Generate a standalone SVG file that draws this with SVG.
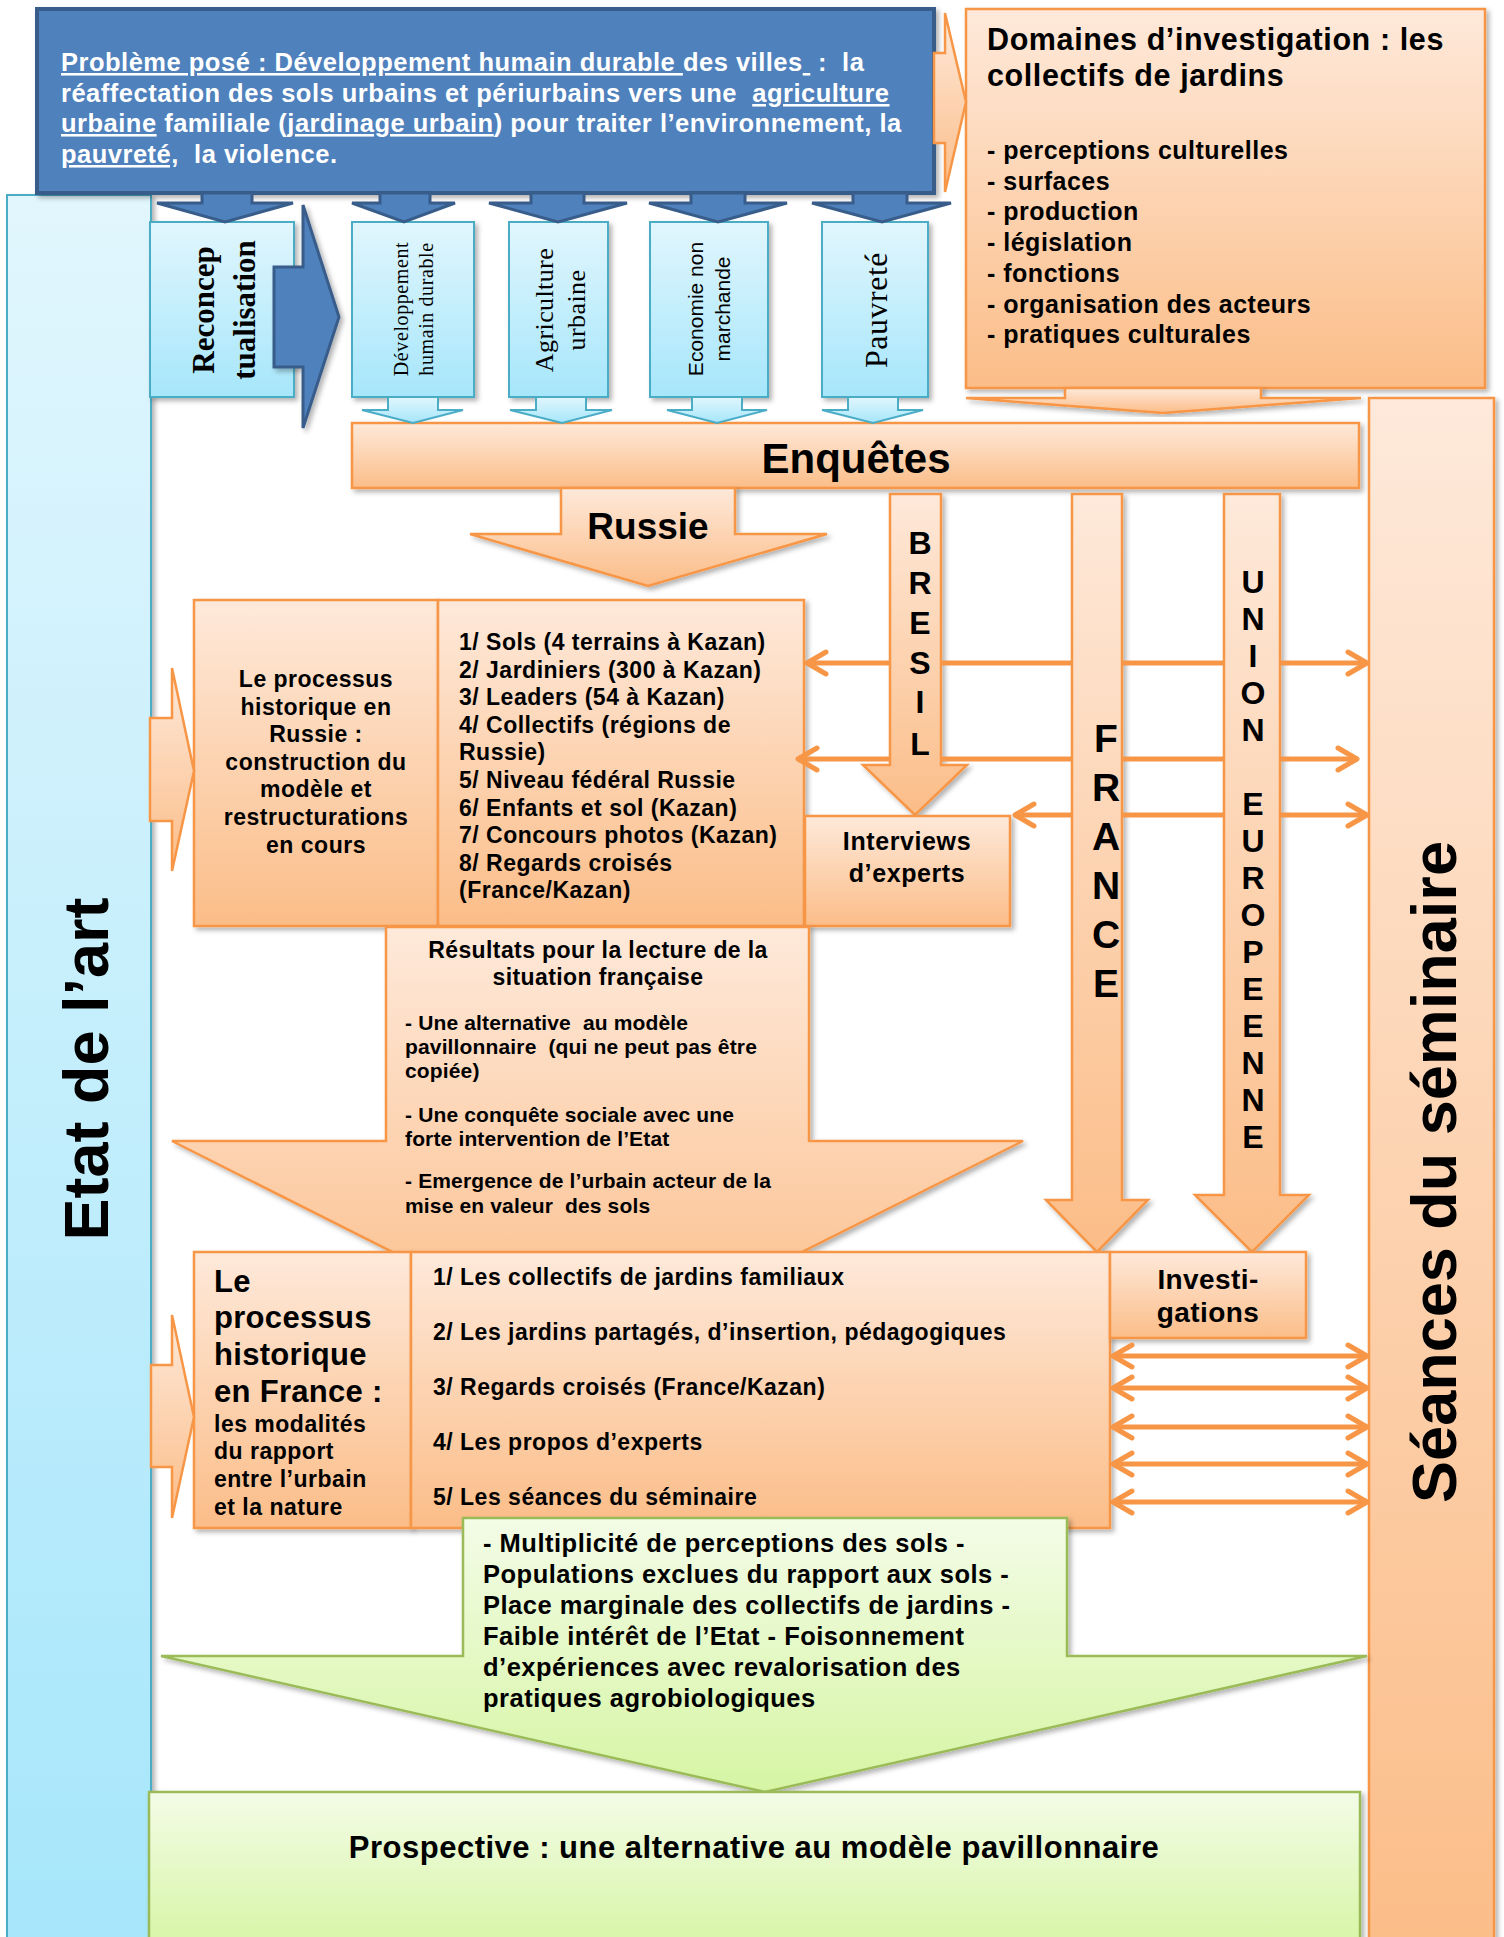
<svg xmlns="http://www.w3.org/2000/svg" width="1504" height="1937" viewBox="0 0 1504 1937">
<defs>
<linearGradient id="gO" x1="0" y1="0" x2="0" y2="1"><stop offset="0" stop-color="#fee9da"/><stop offset="1" stop-color="#fbbd88"/></linearGradient>
<linearGradient id="gB" x1="0" y1="0" x2="0" y2="1"><stop offset="0" stop-color="#e1f6fd"/><stop offset="1" stop-color="#a6e6fb"/></linearGradient>
<linearGradient id="gG" x1="0" y1="0" x2="0" y2="1"><stop offset="0" stop-color="#f3fce7"/><stop offset="1" stop-color="#d6f5a3"/></linearGradient>
<filter id="sh" x="-10%" y="-10%" width="125%" height="125%"><feDropShadow dx="3" dy="3" stdDeviation="2.5" flood-color="#000" flood-opacity="0.3"/></filter>
<marker id="ch" viewBox="0 0 24 24" refX="21" refY="12" markerWidth="24" markerHeight="24" markerUnits="userSpaceOnUse" orient="auto-start-reverse" overflow="visible"><path d="M2,1 L21,12 L2,23" fill="none" stroke="#f79646" stroke-width="5" stroke-linecap="round" stroke-linejoin="round"/></marker>
<style>
.o{fill:url(#gO);stroke:#f79646;stroke-width:2.5}
.lb{fill:url(#gB);stroke:#4bacc6;stroke-width:2}
.g{fill:url(#gG);stroke:#9bbb59;stroke-width:2.5}
.db{fill:#4f81bd;stroke:#385d8a;stroke-width:3}
.sh{filter:url(#sh)}
text{font-family:"Liberation Sans",Arial,sans-serif;font-weight:700;fill:#000}
.serif{font-family:"Liberation Serif","Times New Roman",serif}
.reg{font-weight:400}
.w{fill:#fff}
.c{text-anchor:middle}
.dbl{fill:none;stroke:#f79646;stroke-width:5;marker-start:url(#ch);marker-end:url(#ch)}
.tb{font-size:25.5px;letter-spacing:0.5px}
.tdt{font-size:30.5px;letter-spacing:0.6px}
.tdl{font-size:25px;letter-spacing:0.5px}
.t23{font-size:23px;letter-spacing:0.5px}
.t23h{font-size:23px;letter-spacing:0.4px}
.t21{font-size:21px;letter-spacing:0.15px}
.t25{font-size:25px;letter-spacing:0.6px}
.tg{font-size:25.5px;letter-spacing:0.5px}
.t31{font-size:31px;letter-spacing:0.3px}
.tp{font-size:31px;letter-spacing:0.5px}
.t28{font-size:28px;letter-spacing:0.4px}
.big{font-size:63px}
.enq{font-size:42px}
.rus{font-size:37px}
.l32{font-size:32px}
.l39{font-size:39px}
</style>
</defs>

<g id="etat-art">
<rect x="7" y="195" width="144" height="1760" class="lb sh"/>
<text class="big c" transform="translate(108,1069) rotate(-90)">Etat de l’art</text>
</g>

<g id="seances">
<rect x="1369" y="398" width="125" height="1560" class="o sh"/>
<text class="big c" transform="translate(1456,1172) rotate(-90)">Séances du séminaire</text>
</g>

<g id="domaines">
<rect x="966" y="9" width="519" height="379" class="o sh"/>
<text class="tdt" x="987" y="50">Domaines d’investigation : les</text>
<text class="tdt" x="987" y="86">collectifs de jardins</text>
<text class="tdl" x="987"><tspan x="987" y="159">- perceptions culturelles</tspan><tspan x="987" y="190">- surfaces</tspan><tspan x="987" y="220">- production</tspan><tspan x="987" y="251">- législation</tspan><tspan x="987" y="282">- fonctions</tspan><tspan x="987" y="313">- organisation des acteurs</tspan><tspan x="987" y="343">- pratiques culturales</tspan></text>
</g>

<g id="probleme">
<rect x="37" y="9" width="897" height="184" fill="#4f81bd" stroke="#385d8a" stroke-width="4" class="sh"/>
<text class="tb w" x="61" y="71" xml:space="preserve"><tspan text-decoration="underline">Problème posé : Développement humain durable </tspan>des villes<tspan text-decoration="underline"> </tspan> :  la</text>
<text class="tb w" x="61" y="102" xml:space="preserve">réaffectation des sols urbains et périurbains vers une  <tspan text-decoration="underline">agriculture</tspan></text>
<text class="tb w" x="61" y="132" xml:space="preserve"><tspan text-decoration="underline">urbaine</tspan> familiale (<tspan text-decoration="underline">jardinage urbain</tspan>) pour traiter l’environnement, la</text>
<text class="tb w" x="61" y="163" xml:space="preserve"><tspan text-decoration="underline">pauvreté,</tspan>  la violence.</text>
</g>

<g id="reconceptualisation">
<rect x="150" y="222" width="144" height="175" class="lb sh"/>
<text class="serif c" style="font-size:31px" transform="translate(214,310) rotate(-90)">Reconcep</text>
<text class="serif c" style="font-size:31px" transform="translate(255,310) rotate(-90)">tualisation</text>
</g>

<g id="developpement">
<rect x="352" y="222" width="122" height="175" class="lb sh"/>
<text class="serif reg c" style="font-size:20px;letter-spacing:0.6px" transform="translate(408,309) rotate(-90)">Développement</text>
<text class="serif reg c" style="font-size:20px;letter-spacing:0.6px" transform="translate(433,309) rotate(-90)">humain durable</text>
</g>

<g id="agriculture">
<rect x="509" y="222" width="99" height="175" class="lb sh"/>
<text class="serif reg c" style="font-size:26px;letter-spacing:0.4px" transform="translate(553,310) rotate(-90)">Agriculture</text>
<text class="serif reg c" style="font-size:26px;letter-spacing:0.4px" transform="translate(585,310) rotate(-90)">urbaine</text>
</g>

<g id="economie">
<rect x="650" y="222" width="118" height="175" class="lb sh"/>
<text class="reg c" style="font-size:21px" transform="translate(703,309) rotate(-90)">Economie non</text>
<text class="reg c" style="font-size:21px" transform="translate(730,309) rotate(-90)">marchande</text>
</g>

<g id="pauvrete">
<rect x="822" y="222" width="106" height="175" class="lb sh"/>
<text class="serif reg c" style="font-size:32px;letter-spacing:0.5px" transform="translate(887,310) rotate(-90)">Pauvreté</text>
</g>

<g id="enquetes">
<rect x="352" y="423" width="1007" height="65" class="o sh"/>
<text class="enq c" x="856" y="473">Enquêtes</text>
</g>

<g id="russie">
<polygon points="561,488 735,488 735,534 827,534 648,586 470,534 561,534" class="o sh"/>
<text class="rus c" x="648" y="539">Russie</text>
</g>

<g id="processus-russie">
<rect x="194" y="600" width="244" height="326" class="o sh"/>
<text class="t23 c"><tspan x="316" y="687">Le processus</tspan><tspan x="316" y="715">historique en</tspan><tspan x="316" y="742">Russie :</tspan><tspan x="316" y="770">construction du</tspan><tspan x="316" y="797">modèle et</tspan><tspan x="316" y="825">restructurations</tspan><tspan x="316" y="853">en cours</tspan></text>
</g>

<g id="liste-russie">
<rect x="438" y="600" width="366" height="326" class="o sh"/>
<text class="t23"><tspan x="459" y="650">1/ Sols (4 terrains à Kazan)</tspan><tspan x="459" y="678">2/ Jardiniers (300 à Kazan)</tspan><tspan x="459" y="705">3/ Leaders (54 à Kazan)</tspan><tspan x="459" y="733">4/ Collectifs (régions de</tspan><tspan x="459" y="760">Russie)</tspan><tspan x="459" y="788">5/ Niveau fédéral Russie</tspan><tspan x="459" y="816">6/ Enfants et sol (Kazan)</tspan><tspan x="459" y="843">7/ Concours photos (Kazan)</tspan><tspan x="459" y="871">8/ Regards croisés</tspan><tspan x="459" y="898">(France/Kazan)</tspan></text>
</g>

<g id="bresil">
<polygon points="890,494 941,494 941,765 967,765 915,815 863,765 890,765" class="o sh"/>
<text class="l32 c"><tspan x="920" y="554">B</tspan><tspan x="920" y="594">R</tspan><tspan x="920" y="634">E</tspan><tspan x="920" y="674">S</tspan><tspan x="920" y="713">I</tspan><tspan x="920" y="755">L</tspan></text>
</g>

<g id="france">
<polygon points="1072,494 1122,494 1122,1200 1148,1200 1097,1252 1046,1200 1072,1200" class="o sh"/>
<text class="l39 c"><tspan x="1106" y="752">F</tspan><tspan x="1106" y="801">R</tspan><tspan x="1106" y="850">A</tspan><tspan x="1106" y="899">N</tspan><tspan x="1106" y="948">C</tspan><tspan x="1106" y="997">E</tspan></text>
</g>

<g id="union-europeenne">
<polygon points="1224,494 1280,494 1280,1195 1309,1195 1252,1252 1195,1195 1224,1195" class="o sh"/>
<text class="l32 c"><tspan x="1253" y="593">U</tspan><tspan x="1253" y="630">N</tspan><tspan x="1253" y="667">I</tspan><tspan x="1253" y="704">O</tspan><tspan x="1253" y="741">N</tspan><tspan x="1253" y="815">E</tspan><tspan x="1253" y="852">U</tspan><tspan x="1253" y="889">R</tspan><tspan x="1253" y="926">O</tspan><tspan x="1253" y="963">P</tspan><tspan x="1253" y="1000">E</tspan><tspan x="1253" y="1037">E</tspan><tspan x="1253" y="1074">N</tspan><tspan x="1253" y="1111">N</tspan><tspan x="1253" y="1148">E</tspan></text>
</g>

<g id="interviews">
<rect x="805" y="816" width="205" height="110" class="o sh"/>
<text class="t25 c"><tspan x="907" y="850">Interviews</tspan><tspan x="907" y="882">d’experts</tspan></text>
</g>

<g id="resultats">
<polygon points="386,927 809,927 809,1141 1023,1141 597,1355 172,1141 386,1141" class="o sh"/>
<text class="t23h c"><tspan x="598" y="958">Résultats pour la lecture de la</tspan><tspan x="598" y="985">situation française</tspan></text>
<text class="t21" xml:space="preserve"><tspan x="405" y="1030">- Une alternative  au modèle</tspan><tspan x="405" y="1054">pavillonnaire  (qui ne peut pas être</tspan><tspan x="405" y="1078">copiée)</tspan><tspan x="405" y="1122">- Une conquête sociale avec une</tspan><tspan x="405" y="1146">forte intervention de l’Etat</tspan><tspan x="405" y="1188">- Emergence de l’urbain acteur de la</tspan><tspan x="405" y="1213">mise en valeur  des sols</tspan></text>
</g>

<g id="processus-france">
<rect x="194" y="1252" width="217" height="276" class="o sh"/>
<text class="t31"><tspan x="214" y="1292">Le</tspan><tspan x="214" y="1328">processus</tspan><tspan x="214" y="1365">historique</tspan><tspan x="214" y="1402">en France :</tspan></text>
<text class="t23"><tspan x="214" y="1432">les modalités</tspan><tspan x="214" y="1459">du rapport</tspan><tspan x="214" y="1487">entre l’urbain</tspan><tspan x="214" y="1515">et la nature</tspan></text>
</g>

<g id="liste-france">
<rect x="411" y="1252" width="699" height="276" class="o sh"/>
<text class="t23"><tspan x="433" y="1285">1/ Les collectifs de jardins familiaux</tspan><tspan x="433" y="1340">2/ Les jardins partagés, d’insertion, pédagogiques</tspan><tspan x="433" y="1395">3/ Regards croisés (France/Kazan)</tspan><tspan x="433" y="1450">4/ Les propos d’experts</tspan><tspan x="433" y="1505">5/ Les séances du séminaire</tspan></text>
</g>

<g id="investigations">
<rect x="1110" y="1252" width="196" height="86" class="o sh"/>
<text class="t28 c"><tspan x="1208" y="1289">Investi-</tspan><tspan x="1208" y="1322">gations</tspan></text>
</g>

<g id="constats">
<polygon points="463,1518 1067,1518 1067,1656 1367,1656 765,1792 161,1656 463,1656" class="g sh"/>
<text class="tg"><tspan x="483" y="1552">- Multiplicité de perceptions des sols -</tspan><tspan x="483" y="1583">Populations exclues du rapport aux sols -</tspan><tspan x="483" y="1614">Place marginale des collectifs de jardins -</tspan><tspan x="483" y="1645">Faible intérêt de l’Etat - Foisonnement</tspan><tspan x="483" y="1676">d’expériences avec revalorisation des</tspan><tspan x="483" y="1707">pratiques agrobiologiques</tspan></text>
</g>

<g id="prospective">
<rect x="149" y="1792" width="1211" height="160" class="g sh"/>
<text class="tp c" x="754" y="1858">Prospective : une alternative au modèle pavillonnaire</text>
</g>

<g id="connectors">
<polygon points="934,53 945,53 945,13 966,102 945,192 945,143 934,143" class="o"/>
<polygon points="202,193 252,193 252,203 293,203 225,222 157,203 202,203" class="db"/>
<polygon points="380,193 430,193 430,203 455,203 404,222 352,203 380,203" class="db"/>
<polygon points="531,193 584,193 584,203 627,203 558,222 489,203 531,203" class="db"/>
<polygon points="691,193 745,193 745,203 787,203 718,222 649,203 691,203" class="db"/>
<polygon points="853,193 907,193 907,203 951,203 882,222 812,203 853,203" class="db"/>
<polygon points="274,267 303,267 303,205 339,317 303,428 303,367 274,367" class="db sh"/>
<polygon points="388,397 438,397 438,410 463,410 413,423 362,410 388,410" class="lb"/>
<polygon points="536,397 586,397 586,410 612,410 562,423 510,410 536,410" class="lb"/>
<polygon points="692,397 742,397 742,410 767,410 717,423 667,410 692,410" class="lb"/>
<polygon points="848,397 898,397 898,410 923,410 873,423 822,410 848,410" class="lb"/>
<polygon points="1065,388 1261,388 1261,398 1361,398 1163,413 966,398 1065,398" class="o sh"/>
<polygon points="150,718 172,718 172,668 194,771 172,871 172,821 150,821" class="o"/>
<polygon points="151,1365 172,1365 172,1315 194,1417 172,1518 172,1467 151,1467" class="o"/>
<path class="dbl" d="M807,663 H890 M941,663 H1072 M1122,663 H1224 M1280,663 H1367"/>
<path class="dbl" d="M798,759 H890 M941,759 H1072 M1122,759 H1224 M1280,759 H1357"/>
<path class="dbl" d="M1015,815 H1072 M1122,815 H1224 M1280,815 H1367"/>
<path class="dbl" d="M1113,1356 H1367"/>
<path class="dbl" d="M1113,1388 H1367"/>
<path class="dbl" d="M1113,1427 H1367"/>
<path class="dbl" d="M1113,1464 H1367"/>
<path class="dbl" d="M1113,1502 H1367"/>
</g>
</svg>
